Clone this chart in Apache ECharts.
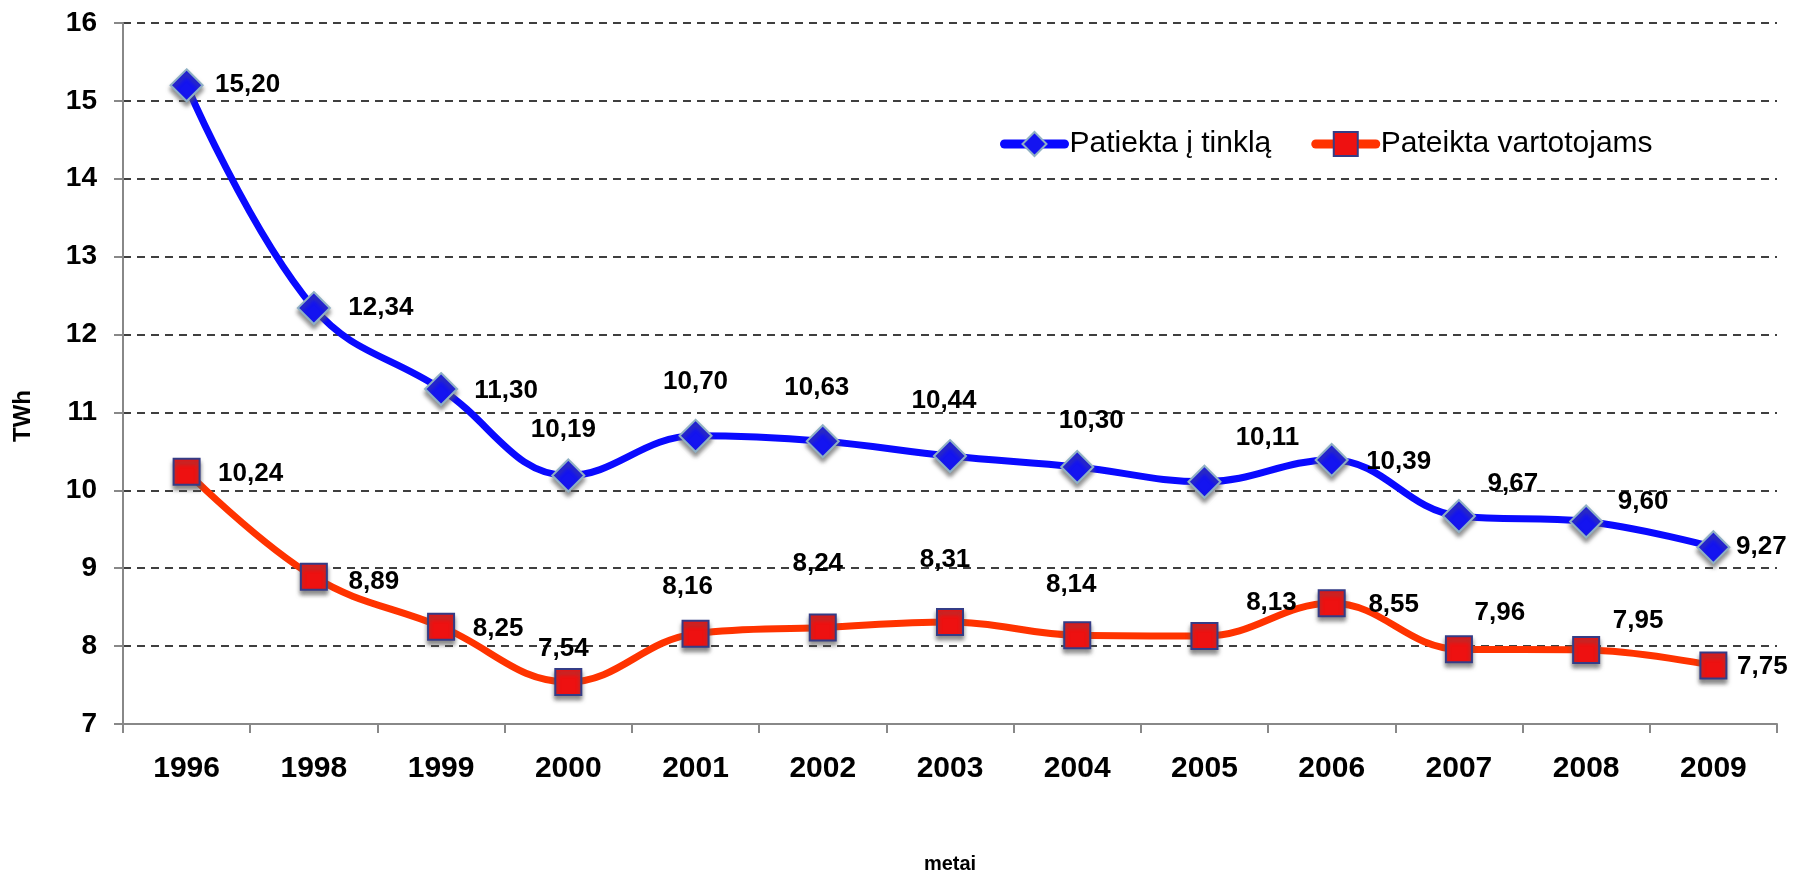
<!DOCTYPE html>
<html>
<head>
<meta charset="utf-8">
<script src="https://cdn.jsdelivr.net/npm/echarts@6/dist/echarts.min.js"></script>
<style>
  html, body { margin: 0; padding: 0; background: #fff; }
  #chart { width: 1798px; height: 879px; }
</style>
</head>
<body>
<div id="chart"></div>
<script>
var years = ["1996", "1998", "1999", "2000", "2001", "2002", "2003", "2004", "2005", "2006", "2007", "2008", "2009"];
var tinklas = [15.20, 12.34, 11.30, 10.19, 10.70, 10.63, 10.44, 10.30, 10.11, 10.39, 9.67, 9.60, 9.27];
var vartotojai = [10.24, 8.89, 8.25, 7.54, 8.16, 8.24, 8.31, 8.14, 8.13, 8.55, 7.96, 7.95, 7.75];
var yTicks = [7, 8, 9, 10, 11, 12, 13, 14, 15, 16];

// label offsets from the marker centre (px)
var tinklasLbl = [[61,0],[67,0],[65,2],[-5,-46],[0,-54],[-6,-53],[-6,-55],[14,-46],[63,-44],[67,2],[54,-32],[57,-20],[48,0]];
var vartLbl = [[64,2],[60,5],[57,2],[-5,-33],[-8,-47],[-5,-64],[-5,-62],[-6,-50],[67,-33],[62,2],[41,-36],[52,-29],[49,1]];

function fmt(v) { return v.toFixed(2).replace(".", ","); }

function withLabels(vals, offs) {
  var out = [];
  for (var i = 0; i < vals.length; i++) {
    out.push({ value: vals[i], label: { offset: offs[i] } });
  }
  return out;
}

var FONT = "'Liberation Sans', Arial, sans-serif";
var chart = echarts.init(document.getElementById("chart"));

var lblStyle = {
  show: true,
  position: "inside",
  color: "#000",
  fontFamily: FONT,
  fontWeight: "bold",
  fontSize: 26,
  formatter: function (p) { return fmt(p.value); }
};

chart.setOption({
  animation: false,
  grid: { left: 123, right: 21, top: 23, bottom: 144 },
  legend: {
    left: 995,
    top: 124,
    itemWidth: 60,
    itemHeight: 30,
    itemGap: 40,
    selectedMode: false,
    lineStyle: { width: 9, cap: "round" },
    textStyle: { fontFamily: FONT, fontSize: 30, color: "#000" },
    data: ["Patiekta į tinklą", "Pateikta vartotojams"]
  },
  xAxis: {
    type: "category",
    data: years,
    boundaryGap: true,
    name: "metai",
    nameLocation: "middle",
    nameGap: 130,
    nameTextStyle: { fontFamily: FONT, fontWeight: "bold", fontSize: 20, color: "#000" },
    axisLine: { lineStyle: { color: "#888", width: 2 } },
    axisTick: { show: true, interval: 0, alignWithLabel: false, length: 9, lineStyle: { color: "#888", width: 2 } },
    axisLabel: { interval: 0, margin: 30, fontFamily: FONT, fontWeight: "bold", fontSize: 30, color: "#000" },
    splitLine: { show: false }
  },
  yAxis: {
    type: "value",
    min: yTicks[0],
    max: yTicks[yTicks.length - 1],
    interval: 1,
    axisLine: { show: true, lineStyle: { color: "#888", width: 2 } },
    axisTick: { show: true, length: 9, lineStyle: { color: "#888", width: 2 } },
    axisLabel: { margin: 26, fontFamily: FONT, fontWeight: "bold", fontSize: 28, color: "#000" },
    splitLine: { show: true, lineStyle: { color: "#000", type: [8, 6], width: 1.5 } }
  },
  graphic: [{
    type: "text",
    left: 11,
    top: 390,
    rotation: Math.PI / 2,
    style: { text: "TWh", fontFamily: FONT, fontWeight: "bold", fontSize: 24, fill: "#000" }
  }],
  series: [
    {
      name: "Patiekta į tinklą",
      type: "line",
      smooth: 0.4,
      data: withLabels(tinklas, tinklasLbl),
      symbol: "diamond",
      symbolSize: 32,
      lineStyle: { color: "#0a0aff", width: 7 },
      itemStyle: {
        color: "#1414f0",
        borderColor: "#8fb0c4",
        borderWidth: 2,
        shadowColor: "rgba(90,90,90,0.7)",
        shadowBlur: 4,
        shadowOffsetY: 4
      },
      label: lblStyle,
      z: 3
    },
    {
      name: "Pateikta vartotojams",
      type: "line",
      smooth: 0.4,
      data: withLabels(vartotojai, vartLbl),
      symbol: "rect",
      symbolSize: 26,
      lineStyle: { color: "#ff3300", width: 7 },
      itemStyle: {
        color: "#ee1111",
        borderColor: "#343c86",
        borderWidth: 2,
        shadowColor: "rgba(90,90,90,0.7)",
        shadowBlur: 4,
        shadowOffsetY: 4
      },
      label: lblStyle,
      z: 3
    }
  ]
});
</script>
</body>
</html>
